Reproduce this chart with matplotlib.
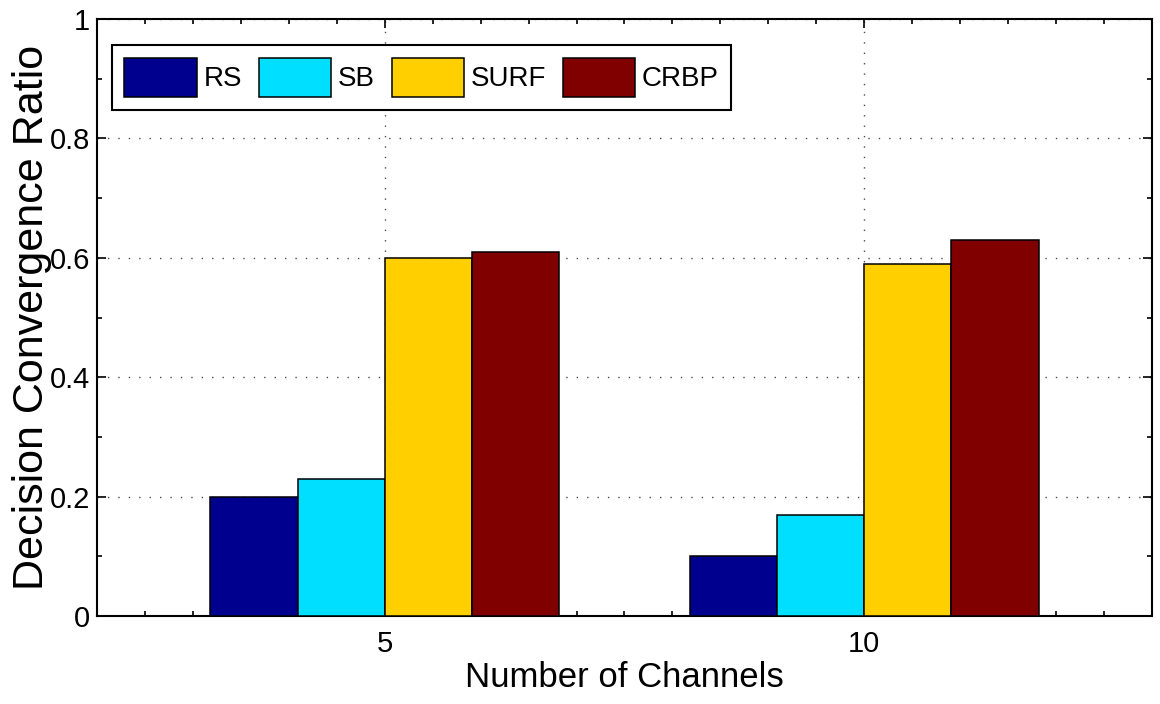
import numpy as np
import matplotlib.pyplot as plt
from matplotlib.ticker import MultipleLocator

# data
channels = ['5', '10']
methods = ['RS', 'SB', 'SURF', 'CRBP']
rs = [0.20, 0.10]
sb = [0.23, 0.17]
surf = [0.60, 0.59]
crbp = [0.61, 0.63]
colors = ['#00008F', '#00DFFF', '#FFCF00', '#800000']

font = ['Liberation Sans', 'DejaVu Sans']

fig = plt.figure(figsize=(11.6, 7.04), dpi=100)
ax = fig.add_axes([0.0836, 0.125, 0.9095, 0.848])

x = np.arange(len(channels))
# matlab style grouped bars: group width = n/(n+1.5)
w = len(methods) / (len(methods) + 1.5) / len(methods)
series = [rs, sb, surf, crbp]
for i, (vals, name) in enumerate(zip(series, methods)):
    ax.bar(x + (i - 1.5) * w, vals, w, color=colors[i], edgecolor='k',
           linewidth=1.1, label=name, zorder=3)

ax.set_xlim(-0.6, 1.6)
ax.set_ylim(0, 1)
ax.set_xticks(x)
ax.set_xticklabels(channels, family=font, fontsize=21)
ax.set_yticks([0, 0.2, 0.4, 0.6, 0.8, 1.0])
ax.set_yticklabels(['0', '0.2', '0.4', '0.6', '0.8', '1'], family=font, fontsize=21)
ax.xaxis.set_minor_locator(MultipleLocator(0.1))
ax.yaxis.set_minor_locator(MultipleLocator(0.1))
ax.tick_params(which='both', direction='in', top=True, right=True, width=1.2)
ax.tick_params(which='major', length=6.5)
ax.tick_params(which='minor', length=3.6)
ax.tick_params(axis='x', which='major', pad=10)
ax.tick_params(axis='y', which='major', pad=5)
for s in ax.spines.values():
    s.set_linewidth(1.5)

ax.grid(True, which='major', linestyle=(0, (1, 6.5)), color='0.3', linewidth=1.0, zorder=0)
ax.set_axisbelow(True)

ax.set_xlabel('Number of Channels', family=font, fontsize=25, labelpad=2)
ax.set_ylabel('Decision Convergence Ratio', family=font, fontsize=31)
ax.yaxis.set_label_coords(-0.043, 0.5)

leg = ax.legend(loc='upper left', ncol=4, bbox_to_anchor=(0.0142, 0.956),
                prop={'family': font, 'size': 20}, frameon=True, fancybox=False,
                handlelength=2.6, handleheight=1.8, handletextpad=0.25,
                columnspacing=0.6, borderpad=0.45, borderaxespad=0.0)
leg.get_frame().set_edgecolor('k')
leg.get_frame().set_linewidth(1.5)
leg.get_frame().set_alpha(1)

fig.savefig('out.png', dpi=100)
